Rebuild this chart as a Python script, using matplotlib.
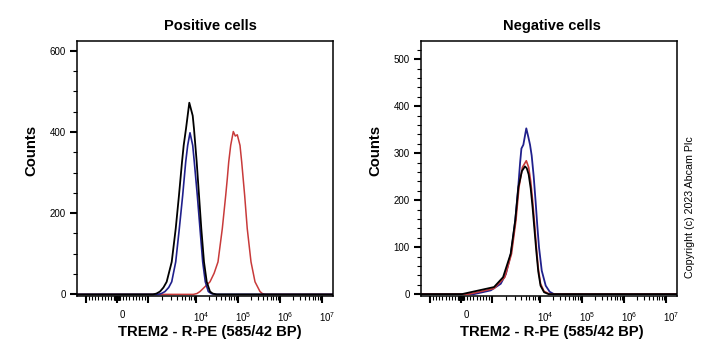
import matplotlib
matplotlib.use("Agg")
import matplotlib.pyplot as plt
import matplotlib.transforms as mtransforms
import numpy as np
from matplotlib.ticker import FixedLocator, NullFormatter

plt.rcParams['font.family'] = ['Liberation Sans', 'DejaVu Sans']
plt.rcParams['mathtext.default'] = 'regular'

#%% data (fluorescence, counts)
# positive cells
pos_black_x = [-1500, 1271, 1500, 1778, 2100, 2450, 3120, 3780, 4420, 5110, 5540, 6190, 7250,
               8540, 9080, 10390, 11790, 13370, 15500, 18000, 21540, 25000, 31100, 1.8e7]
pos_black_y = [0, 0, 2, 7, 17, 31, 80, 162, 244, 326, 367, 408, 472,
               440, 408, 326, 244, 162, 80, 31, 7, 2, 0, 0]
pos_blue_x = [-1500, 1615, 1900, 2260, 2700, 3120, 3780, 4490, 5280, 6100, 6710, 7500,
              8540, 9220, 10740, 12450, 14440, 16650, 19630, 23000, 28300, 1.8e7]
pos_blue_y = [0, 0, 2, 7, 17, 31, 80, 162, 244, 326, 367, 398,
              367, 326, 244, 162, 80, 31, 7, 2, 0, 0]
pos_red_x = [-1500, 8780, 10500, 12450, 16400, 21540, 27000, 33400, 42300, 51000, 55600,
             60100, 67000, 77300, 86200, 96200, 111600, 122500, 144000, 166000,
             204000, 254000, 334000, 380000, 439000, 1.8e7]
pos_red_y = [0, 0, 2, 7, 19, 31, 52, 80, 162, 244, 285,
             326, 367, 401, 390, 393, 367, 326, 244, 162,
             80, 31, 7, 2, 0, 0]

# negative cells
neg_blue_x = [-1500, 420, 960, 1520, 1950, 2470, 2750, 3050, 3520, 3850, 4100, 4500, 5180,
              5700, 6200, 6710, 7400, 8130, 8800, 9530, 11000, 13670, 17000, 21540, 1.8e7]
neg_blue_y = [0, 0, 8, 22, 43, 86, 120, 157, 228, 280, 310, 318, 353,
              335, 318, 295, 250, 195, 145, 100, 50, 18, 5, 0, 0]
neg_red_x = [-1500, 260, 1100, 1850, 2550, 3150, 3650, 4300, 5180,
             5800, 6400, 7000, 7700, 8400, 9200, 10300, 12500, 17000, 1.8e7]
neg_red_y = [0, 0, 12, 36, 86, 157, 228, 270, 284,
             270, 240, 200, 150, 100, 55, 22, 6, 0, 0]
neg_black_x = [-1500, 30, 1100, 1700, 2450, 3050, 3550, 4200, 4870, 5300,
               5800, 6400, 7000, 7700, 8400, 9200, 10300, 12500, 16000, 1.8e7]
neg_black_y = [0, 0, 15, 36, 86, 157, 228, 262, 272, 268,
               255, 225, 185, 135, 90, 48, 18, 4, 0, 0]

#%% biexponential-like axis
T = 1000.0
L, D1, D = 31.0, 48.0, 42.0

def fwd(x):
    x = np.asarray(x, float)
    a = np.abs(x)
    out = np.where(a <= T, a / T * L,
                   np.where(a <= 10 * T, L + D1 * np.log10(np.maximum(a, T) / T),
                            L + D1 + D * np.log10(np.maximum(a, 10 * T) / (10 * T))))
    return np.sign(x) * out

def inv(u):
    u = np.asarray(u, float)
    a = np.abs(u)
    out = np.where(a <= L, a / L * T,
                   np.where(a <= L + D1, T * 10 ** ((np.minimum(a, L + D1) - L) / D1),
                            10 * T * 10 ** ((np.maximum(a, L + D1) - L - D1) / D)))
    return np.sign(u) * out

major_x = [-1000, 0, 1000, 1e4, 1e5, 1e6, 1e7]
major_lab = ["", "0", "", "$10^4$", "$10^5$", "$10^6$", "$10^7$"]
minor_x = [s * m * 10 for s in (-1, 1) for m in range(1, 10)] + \
          [s * m * 100 for s in (-1, 1) for m in range(1, 10)] + \
          [m * 10 ** e for e in range(3, 7) for m in range(2, 10)]

fig = plt.figure(figsize=(7.07, 3.47), dpi=100)
ax1 = fig.add_axes([77 / 707, 51 / 347, 256 / 707, 255 / 347])
ax2 = fig.add_axes([421 / 707, 51 / 347, 256 / 707, 255 / 347])
shift = mtransforms.ScaledTranslation(5 / 100, 0, fig.dpi_scale_trans)

def style(ax, title, ymax, ymajor, yminor, xc):
    ax.set_xscale('function', functions=(fwd, inv))
    ax.set_xlim(inv(-40), inv(216))
    ax.set_ylim(-4, ymax)
    ax.xaxis.set_major_locator(FixedLocator(major_x))
    ax.set_xticklabels(major_lab)
    ax.xaxis.set_minor_locator(FixedLocator(minor_x))
    ax.xaxis.set_minor_formatter(NullFormatter())
    ax.yaxis.set_major_locator(FixedLocator(ymajor))
    ax.yaxis.set_minor_locator(FixedLocator(yminor))
    ax.tick_params(which="major", length=5, width=1.5, labelsize=7, pad=3)
    ax.tick_params(axis="x", which="major", pad=5)
    ax.tick_params(which="minor", length=3, width=0.8)
    for lab in ax.get_xticklabels():
        lab.set_transform(lab.get_transform() + shift)
    for s in ax.spines.values():
        s.set_linewidth(1.1)
    ax.set_title(title, fontsize=10.5, fontweight="bold", pad=8)
    ax.title.set_x(xc)
    ax.set_xlabel("TREM2 - R-PE (585/42 BP)", fontsize=10.7, fontweight="bold", labelpad=1)
    ax.xaxis.set_label_coords(xc, -0.115)
    ax.xaxis.label.set_va("top")
    ax.set_ylabel("Counts", fontsize=10.7, fontweight="bold")
    ax.yaxis.set_label_coords(-0.15, 0.57)

ax1.plot(pos_red_x, pos_red_y, color="#c83a3a", lw=1.1)
ax1.plot(pos_blue_x, pos_blue_y, color="#20208c", lw=1.2)
ax1.plot(pos_black_x, pos_black_y, color="black", lw=1.3)
style(ax1, "Positive cells", 624, [0, 200, 400, 600], list(range(50, 624, 50)), 0.52)

ax2.plot(neg_blue_x, neg_blue_y, color="#20208c", lw=1.3)
ax2.plot(neg_red_x, neg_red_y, color="#c83a3a", lw=1.2)
ax2.plot(neg_black_x, neg_black_y, color="black", lw=1.3)
style(ax2, "Negative cells", 539, [0, 100, 200, 300, 400, 500], list(range(20, 539, 20)), 0.51)

fig.text(0.976, 0.403, "Copyright (c) 2023 Abcam Plc", rotation=90,
         fontsize=7.7, ha="center", va="center")

fig.savefig("out.png", dpi=100)
